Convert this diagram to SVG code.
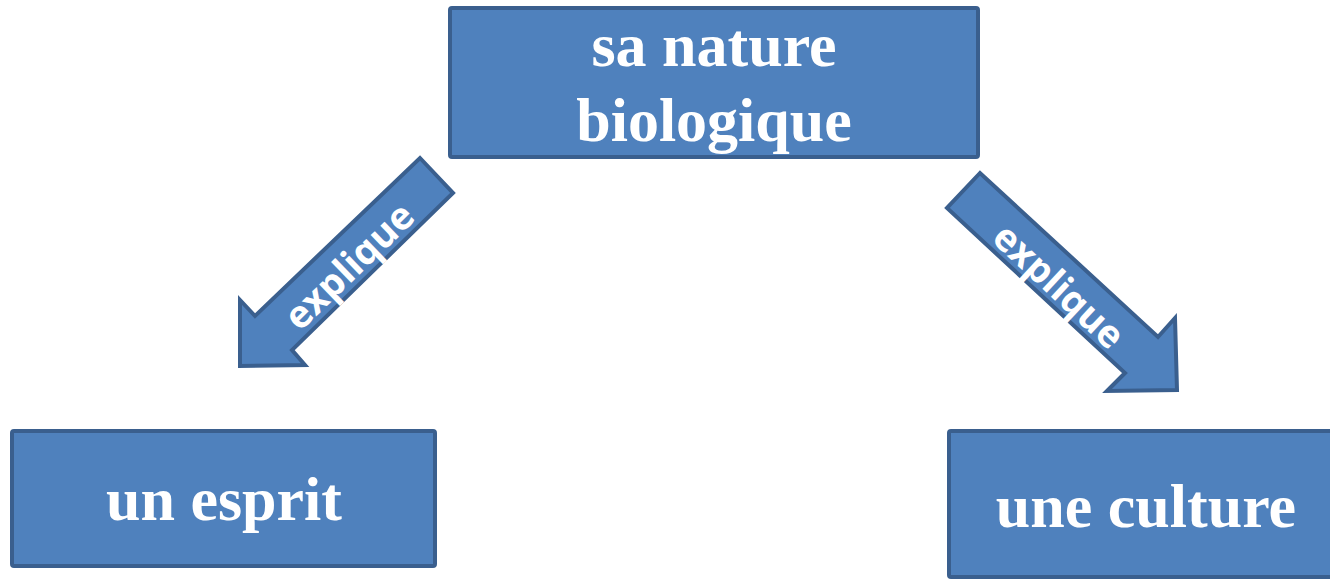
<svg xmlns="http://www.w3.org/2000/svg" width="1330" height="583" viewBox="0 0 1330 583">
<style>
.box{fill:#4F81BD;stroke:#3A5F8E;stroke-width:4}
.arrow{fill:#4F81BD;stroke:#3A5F8E;stroke-width:4;stroke-linejoin:miter}
.t{font-family:"Liberation Serif",serif;font-weight:bold;font-size:62px;fill:#fff;text-anchor:middle}
.a{font-family:"Open Sans","Liberation Sans",sans-serif;font-weight:bold;font-size:38px;fill:#fff;text-anchor:middle}
</style>
<rect width="1330" height="583" fill="#fff"/>
<g id="connectors">
<g id="arrow-left">
<polygon class="arrow" points="420,158 453,193 292,350 305,365 240,366 240,300 255,316"/>
<text class="a" transform="translate(350,267) rotate(-44)" y="12">explique</text>
</g>
<g id="arrow-right">
<polygon class="arrow" points="980,173 947,208 1125,373 1107,391 1177,390 1175,318 1158,337"/>
<text class="a" transform="translate(1058,287) rotate(43)" y="12">explique</text>
</g>
</g>
<g id="node-nature">
<rect class="box" x="450" y="8" width="528" height="149" rx="2"/>
<text class="t" x="714" y="66">sa nature</text>
<text class="t" x="714" y="141" font-size="64">biologique</text>
</g>
<g id="node-esprit">
<rect class="box" x="12" y="431" width="423" height="135" rx="2"/>
<text class="t" x="224" y="520">un esprit</text>
</g>
<g id="node-culture">
<rect class="box" x="949" y="431" width="390" height="146" rx="2"/>
<text class="t" x="1146" y="527">une culture</text>
</g>
</svg>
